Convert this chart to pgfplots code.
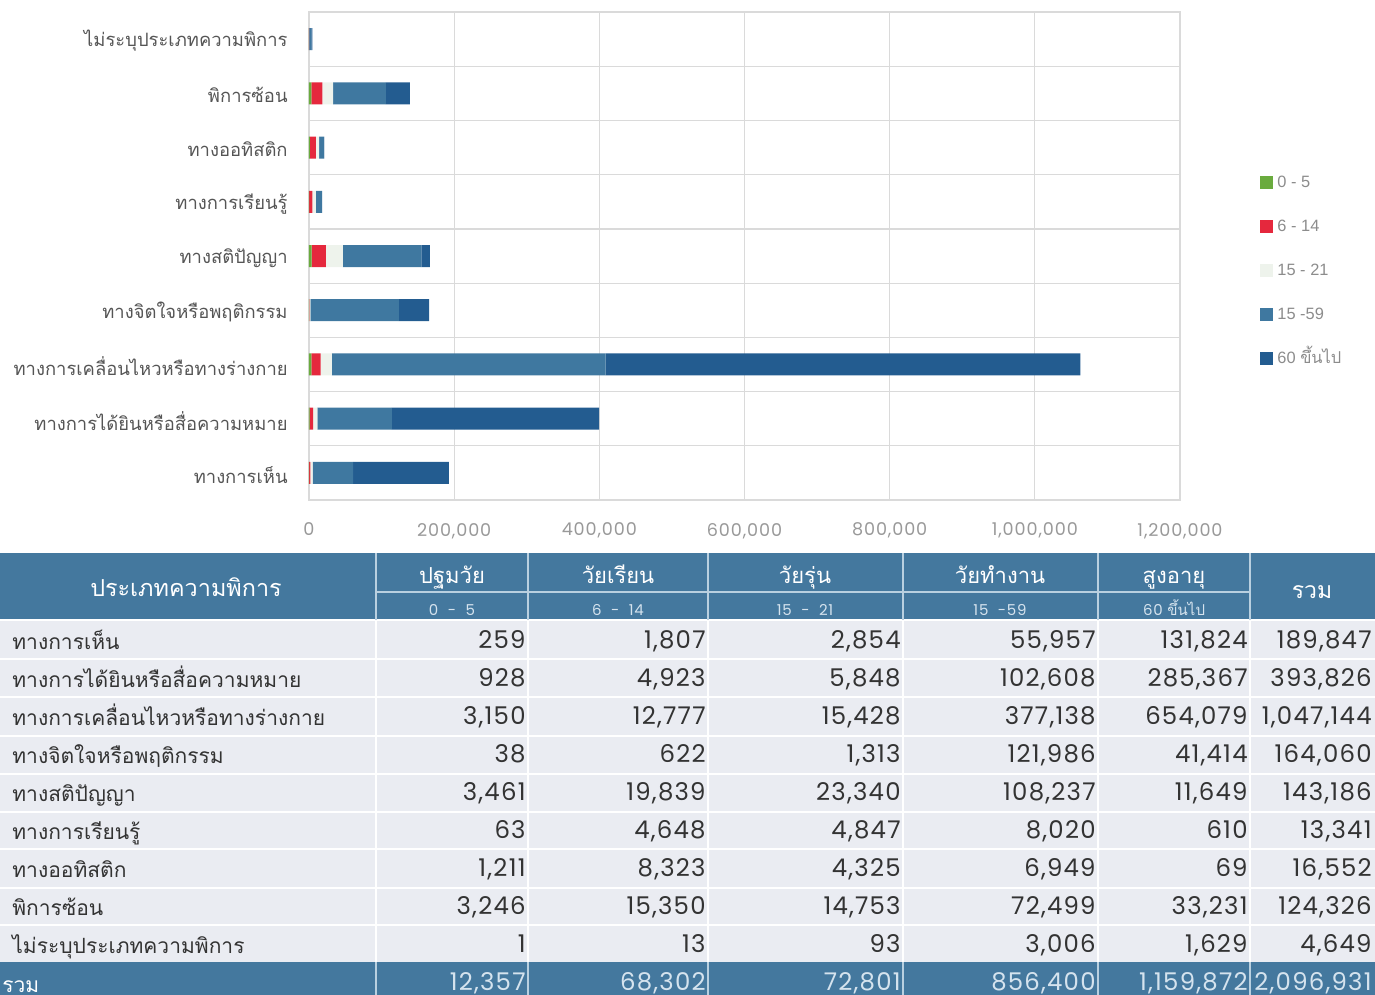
\documentclass[border=0pt]{standalone}
\usepackage{pgfplots}
\pgfplotsset{compat=1.18}
\usepackage{fontspec}
\setmainfont{Liberation Sans}
\newfontfamily\thai[Script=Thai]{Loma}
\newfontfamily\pop[LetterSpace=5]{Poppins}
\definecolor{cgreen}{HTML}{6AAB3E}
\definecolor{cred}{HTML}{E5283D}
\definecolor{clight}{HTML}{EEF3EC}
\definecolor{cmid}{HTML}{3F78A0}
\definecolor{cdark}{HTML}{235C90}
\definecolor{hdr}{HTML}{44789E}
\definecolor{rowbg}{HTML}{EAECF2}
\definecolor{gridc}{HTML}{DADADA}
\definecolor{tcol}{HTML}{333333}
\definecolor{labc}{HTML}{555555}
\definecolor{hline}{HTML}{B9D0E0}
\definecolor{subc}{HTML}{D5E3EE}
\newcommand{\tthai}{\thai\fontsize{10.5}{12}\selectfont}
\newcommand{\tnum}{\pop\fontsize{12.2}{14}\selectfont}
\newcommand{\trow}[8]{%
  \pgfmathsetmacro{\yb}{648+38.1*#1}
  \node[anchor=base west, inner sep=0pt, text=tcol, font=\tthai] at (12,\yb+1) {#2};
  \node[anchor=base east, inner sep=0pt, text=tcol, font=\tnum] at (526,\yb) {#3};
  \node[anchor=base east, inner sep=0pt, text=tcol, font=\tnum] at (706,\yb) {#4};
  \node[anchor=base east, inner sep=0pt, text=tcol, font=\tnum] at (901,\yb) {#5};
  \node[anchor=base east, inner sep=0pt, text=tcol, font=\tnum] at (1096,\yb) {#6};
  \node[anchor=base east, inner sep=0pt, text=tcol, font=\tnum] at (1248,\yb) {#7};
  \node[anchor=base east, inner sep=0pt, text=tcol, font=\tnum] at (1372,\yb) {#8};
}
\begin{document}
\begin{tikzpicture}
\begin{scope}[x=0.5pt,y=-0.5pt]
\useasboundingbox (0,0) rectangle (1375,995);
% header
\fill[hdr] (0,553) rectangle (1375,620);
\fill[rowbg] (0,620) rectangle (1375,962);
\fill[hdr] (0,962) rectangle (1375,1000);
\foreach \yy in {659,697,736,774,812,849,888,925} \draw[white, line width=1pt] (0,\yy) -- (1375,\yy);
\draw[white, line width=1pt] (0,620) -- (1375,620);
\foreach \xx in {376,528,708,903,1098,1250} {
  \draw[white, line width=1pt] (\xx,620) -- (\xx,962);
  \draw[hline, line width=0.8pt] (\xx,553) -- (\xx,620);
  \draw[hline, line width=0.8pt] (\xx,962) -- (\xx,1000);
}
\draw[hline, line width=1pt] (376,592) -- (1250,592);
\node[anchor=base, inner sep=0pt, text=white, font=\thai\fontsize{11.7}{13}\selectfont] at (186,596) {ประเภทความพิการ};
\node[anchor=base, inner sep=0pt, text=white, font=\thai\fontsize{11}{12}\selectfont] at (452,583) {ปฐมวัย};
\node[anchor=base, inner sep=0pt, text=white, font=\thai\fontsize{11}{12}\selectfont] at (618,583) {วัยเรียน};
\node[anchor=base, inner sep=0pt, text=white, font=\thai\fontsize{11}{12}\selectfont] at (805,583) {วัยรุ่น};
\node[anchor=base, inner sep=0pt, text=white, font=\thai\fontsize{11}{12}\selectfont] at (1000,583) {วัยทำงาน};
\node[anchor=base, inner sep=0pt, text=white, font=\thai\fontsize{11}{12}\selectfont] at (1174,583) {สูงอายุ};
\node[anchor=base, inner sep=0pt, text=white, font=\thai\fontsize{11.5}{13}\selectfont] at (1312,598) {รวม};
\node[anchor=base, inner sep=0pt, text=subc, font=\pop\fontsize{7.5}{9}\selectfont] at (452,615) {0 \ - \ 5};
\node[anchor=base, inner sep=0pt, text=subc, font=\pop\fontsize{7.5}{9}\selectfont] at (618,615) {6 \ - \ 14};
\node[anchor=base, inner sep=0pt, text=subc, font=\pop\fontsize{7.5}{9}\selectfont] at (805,615) {15 \ - \ 21};
\node[anchor=base, inner sep=0pt, text=subc, font=\pop\fontsize{7.5}{9}\selectfont] at (1000,615) {15 \ -59};
\node[anchor=base, inner sep=0pt, text=subc, font=\pop\fontsize{7.5}{9}\selectfont] at (1174,615) {60 {\thai ขึ้นไป}};
% rows
\trow{0}{ทางการเห็น}{259}{1,807}{2,854}{55,957}{131,824}{189,847}
\trow{1}{ทางการได้ยินหรือสื่อความหมาย}{928}{4,923}{5,848}{102,608}{285,367}{393,826}
\trow{2}{ทางการเคลื่อนไหวหรือทางร่างกาย}{3,150}{12,777}{15,428}{377,138}{654,079}{1,047,144}
\trow{3}{ทางจิตใจหรือพฤติกรรม}{38}{622}{1,313}{121,986}{41,414}{164,060}
\trow{4}{ทางสติปัญญา}{3,461}{19,839}{23,340}{108,237}{11,649}{143,186}
\trow{5}{ทางการเรียนรู้}{63}{4,648}{4,847}{8,020}{610}{13,341}
\trow{6}{ทางออทิสติก}{1,211}{8,323}{4,325}{6,949}{69}{16,552}
\trow{7}{พิการซ้อน}{3,246}{15,350}{14,753}{72,499}{33,231}{124,326}
\trow{8}{ไม่ระบุประเภทความพิการ}{1}{13}{93}{3,006}{1,629}{4,649}
% total
\node[anchor=base west, inner sep=0pt, text=white, font=\tthai] at (2,992) {รวม};
\node[anchor=base east, inner sep=0pt, text=subc, font=\tnum] at (526,990) {12,357};
\node[anchor=base east, inner sep=0pt, text=subc, font=\tnum] at (706,990) {68,302};
\node[anchor=base east, inner sep=0pt, text=subc, font=\tnum] at (901,990) {72,801};
\node[anchor=base east, inner sep=0pt, text=subc, font=\tnum] at (1096,990) {856,400};
\node[anchor=base east, inner sep=0pt, text=subc, font=\tnum] at (1248,990) {1,159,872};
\node[anchor=base east, inner sep=0pt, text=subc, font=\tnum] at (1372,990) {2,096,931};
\end{scope}
\begin{axis}[
  at={(154.5pt,-250pt)}, anchor=south west,
  scale only axis, width=435.5pt, height=244pt,
  xbar stacked, bar width=11pt,
  xmin=0, xmax=1200000, ymin=-0.5, ymax=8.5,
  xtick={0,200000,400000,600000,800000,1000000,1200000},
  scaled x ticks=false,
  ytick={0,...,8},
  yticklabels={ทางการเห็น,ทางการได้ยินหรือสื่อความหมาย,ทางการเคลื่อนไหวหรือทางร่างกาย,ทางจิตใจหรือพฤติกรรม,ทางสติปัญญา,ทางการเรียนรู้,ทางออทิสติก,พิการซ้อน,ไม่ระบุประเภทความพิการ},
  minor ytick={-0.5,0.5,...,8.5},
  yminorgrids, xmajorgrids,
  grid style={gridc, line width=0.6pt},
  minor grid style={gridc, line width=0.6pt},
  major tick length=0pt, minor tick length=0pt,
  axis line style={gridc, line width=0.6pt},
  /pgf/number format/.cd, 1000 sep={,}, fixed, assume math mode=true, /pgfplots/.cd,
  xticklabel style={font=\pop\fontsize{8.8}{10}\selectfont, text=gray!80, yshift=-8pt},
  yticklabel style={font=\thai\fontsize{9.2}{10}\selectfont, text=labc, inner sep=0pt, xshift=-10.5pt, yshift=-1pt},
  legend style={at={(1.085,0.686)}, anchor=north west, draw=none, fill=none,
    font=\fontsize{8.2}{10}\selectfont, text=gray!90, row sep=9pt,
    nodes={text height=7pt, text depth=2pt},
    /tikz/every even column/.append style={column sep=7pt}},
  legend cell align=left,
  legend image code/.code={\fill[#1] (0pt,-3.25pt) rectangle (6.5pt,3.25pt);},
]
\addplot[fill=cgreen, draw=none] coordinates {(259,0) (928,1) (3150,2) (38,3) (3461,4) (63,5) (1211,6) (3246,7) (1,8)};
\addplot[fill=cred, draw=none] coordinates {(1807,0) (4923,1) (12777,2) (622,3) (19839,4) (4648,5) (8323,6) (15350,7) (13,8)};
\addplot[fill=clight, draw=none] coordinates {(2854,0) (5848,1) (15428,2) (1313,3) (23340,4) (4847,5) (4325,6) (14753,7) (93,8)};
\addplot[fill=cmid, draw=none] coordinates {(55957,0) (102608,1) (377138,2) (121986,3) (108237,4) (8020,5) (6949,6) (72499,7) (3006,8)};
\addplot[fill=cdark, draw=none] coordinates {(131824,0) (285367,1) (654079,2) (41414,3) (11649,4) (610,5) (69,6) (33231,7) (1629,8)};
\legend{0 - 5, 6 - 14, 15 - 21, 15 -59, 60 {\thai ขึ้นไป}}
\end{axis}
\end{tikzpicture}
\end{document}
